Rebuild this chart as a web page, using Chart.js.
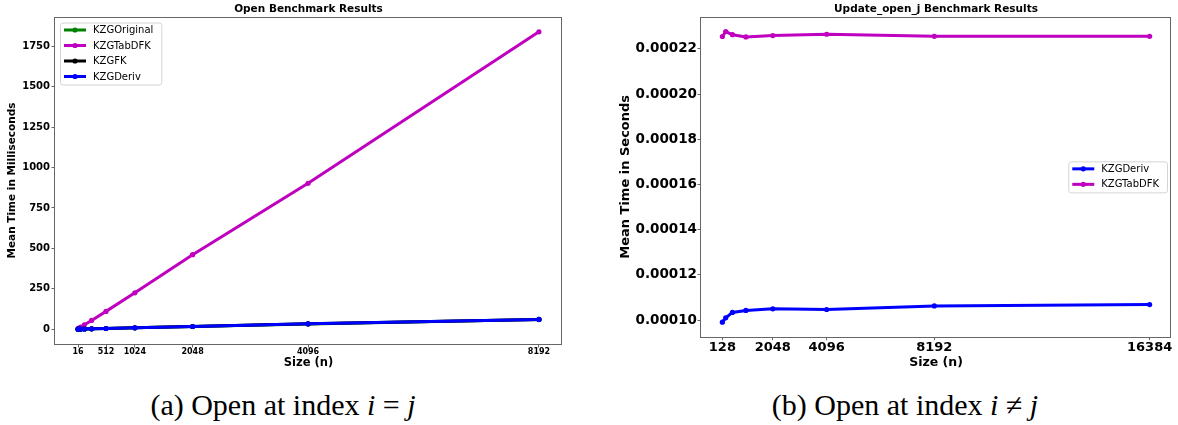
<!DOCTYPE html>
<html>
<head>
<meta charset="utf-8">
<title>Benchmark Results</title>
<script src="https://cdn.jsdelivr.net/npm/chart.js@4.4.1/dist/chart.umd.min.js"></script>
<style>
    body { margin: 0; background: #fff; width: 1178px; height: 425px; overflow: hidden; position: relative; }
    .box { position: absolute; top: 0; height: 372px; }
    .caption { position: absolute; top: 390px; width: 400px; text-align: center;
               font-family: "Liberation Serif", serif; font-size: 30px; line-height: 30px; color: #000; white-space: nowrap; }
</style>
</head>
<body>
<div class="box" style="left:0; width:590px;"><canvas id="openChart"></canvas></div>
<div class="box" style="left:590px; width:588px;"><canvas id="updateChart"></canvas></div>
<div class="caption" style="left:83px;">(a) Open at index <i>i</i> = <i>j</i></div>
<div class="caption" style="left:705px;">(b) Open at index <i>i</i> &ne; <i>j</i></div>

<script>
// values (left: milliseconds, right: seconds)
var openSizes = [16, 32, 64, 128, 256, 512, 1024, 2048, 4096, 8192];
var openOriginal = [0.1, 0.3, 0.5, 1, 2, 4, 8.2, 16.3, 32.5, 59.5];
var openTabDFK = [3, 7, 13, 27, 54, 110, 225, 461, 903, 1840];
var openFK = [0.1, 0.3, 0.5, 1, 2, 4, 8.3, 16.5, 33, 60];
var openDeriv = [0.1, 0.3, 0.5, 1, 2, 4, 8.3, 16.5, 33, 60];
var openXTicks = [16, 512, 1024, 2048, 4096, 8192];
var openYTicks = [0, 250, 500, 750, 1000, 1250, 1500, 1750];

var updateSizes = [128, 256, 512, 1024, 2048, 4096, 8192, 16384];
var updateDeriv = [0.0000991, 0.000101, 0.0001034, 0.0001043, 0.000105, 0.0001047, 0.0001063, 0.0001069];
var updateTabDFK = [0.0002255, 0.0002277, 0.0002263, 0.0002253, 0.0002259, 0.0002265, 0.0002256, 0.0002256];
var updateXTicks = [128, 2048, 4096, 8192, 16384];
var updateYTicks = [0.0001, 0.00012, 0.00014, 0.00016, 0.00018, 0.0002, 0.00022];

var openChart;
var updateChart;

Chart.defaults.font.family = 'DejaVu Sans';
Chart.defaults.color = '#000';

// matplotlib style 5% margin around the data
function padRange(lists) {
    var all = [].concat.apply([], lists);
    var lo = Math.min.apply(null, all);
    var hi = Math.max.apply(null, all);
    var m = (hi - lo) * 0.05;
    return {min: lo - m, max: hi + m};
}

function toPoints(xs, ys) {
    return xs.map(function (x, i) { return {x: x, y: ys[i]}; });
}

function series(label, xs, ys, color, order) {
    return {
        label: label,
        data: toPoints(xs, ys),
        borderColor: color,
        backgroundColor: color,
        borderWidth: 3,
        pointRadius: 2.6,
        pointBorderWidth: 0,
        pointBackgroundColor: color,
        tension: 0,
        order: order
    };
}

// frame around the plot + legend inside the plot area
var frameLegend = {
    id: 'frameLegend',
    afterDatasetsDraw: function (chart, args, opts) {
        var ctx = chart.ctx;
        var a = chart.chartArea;
        ctx.save();
        ctx.strokeStyle = '#666';
        ctx.lineWidth = 1;
        ctx.strokeRect(Math.round(a.left) - 0.5, Math.round(a.top) + 0.5,
            Math.round(a.right - a.left), Math.round(a.bottom - a.top));

        var items = opts.items.map(function (i) { return chart.data.datasets[i]; });
        ctx.font = '10px "DejaVu Sans"';
        var maxW = 0;
        items.forEach(function (d) { maxW = Math.max(maxW, ctx.measureText(d.label).width); });
        var w = maxW + 41;
        var rowH = 15.5;
        var h = 7.5 + (items.length - 1) * rowH + 8;
        var x, y;
        if (opts.place === 'centerRight') {
            x = a.right - 4 - w;
            y = (a.top + a.bottom) / 2 - h / 2;
        } else {
            x = a.left + 5;
            y = a.top + 5.5;
        }
        ctx.fillStyle = 'rgba(255,255,255,0.8)';
        ctx.strokeStyle = '#d4d4d4';
        ctx.beginPath();
        ctx.roundRect(x + 0.5, y + 0.5, w, h, 2.5);
        ctx.fill();
        ctx.stroke();

        items.forEach(function (d, k) {
            var cy = y + 7.5 + k * rowH;
            ctx.strokeStyle = d.borderColor;
            ctx.lineWidth = 3;
            ctx.beginPath();
            ctx.moveTo(x + 4, cy);
            ctx.lineTo(x + 26, cy);
            ctx.stroke();
            ctx.fillStyle = d.borderColor;
            ctx.beginPath();
            ctx.arc(x + 15, cy, 2.6, 0, Math.PI * 2);
            ctx.fill();
            ctx.fillStyle = '#000';
            ctx.textBaseline = 'middle';
            ctx.fillText(d.label, x + 33, cy + 0.5);
        });
        ctx.restore();
    }
};

function axis(range, ticks, fmt, fitSize, tickFont, title, titleFont, titlePad, tickPad, horizontal) {
    return {
        type: 'linear',
        min: range.min,
        max: range.max,
        afterBuildTicks: function (s) { s.ticks = ticks.map(function (v) { return {value: v}; }); },
        afterFit: function (s) { if (horizontal) { s.height = fitSize; } else { s.width = fitSize; } },
        grid: {drawOnChartArea: false, drawTicks: true, tickLength: 3.5, color: '#666'},
        border: {display: false},
        ticks: {font: {size: tickFont, weight: 'bold'}, padding: tickPad, autoSkip: false, maxRotation: 0,
                callback: fmt},
        title: {display: true, text: title, font: {size: titleFont, weight: 'bold'}, padding: titlePad}
    };
}

document.addEventListener('DOMContentLoaded', function () {
    var ctx = document.getElementById('openChart').getContext('2d');
    openChart = new Chart(ctx, {
        type: 'line',
        data: {
            datasets: [
                series('KZGOriginal', openSizes, openOriginal, '#008000', 4),
                series('KZGTabDFK', openSizes, openTabDFK, '#bf00bf', 3),
                series('KZGFK', openSizes, openFK, '#000000', 2),
                series('KZGDeriv', openSizes, openDeriv, '#0000ff', 1)
            ]
        },
        options: {
            responsive: true,
            maintainAspectRatio: false,
            animation: false,
            layout: {padding: {right: 28}},
            plugins: {
                legend: {display: false},
                tooltip: {enabled: false},
                title: {display: true, fullSize: false, text: 'Open Benchmark Results',
                        font: {size: 10.5, weight: 'bold'}, padding: {top: 2.7, bottom: 1.7}},
                frameLegend: {place: 'upperLeft', items: [0, 1, 2, 3]}
            },
            scales: {
                x: axis(padRange([openSizes]), openXTicks, function (v) { return String(v); },
                        28, 8, 'Size (n)', 11.5, 2, 0, true),
                y: axis(padRange([openTabDFK, openDeriv]), openYTicks, function (v) { return String(v); },
                        55, 10, 'Mean Time in Milliseconds', 10.5, 6, 1.5, false)
            }
        },
        plugins: [frameLegend]
    });

    var ctx2 = document.getElementById('updateChart').getContext('2d');
    updateChart = new Chart(ctx2, {
        type: 'line',
        data: {
            datasets: [
                series('KZGDeriv', updateSizes, updateDeriv, '#0000ff', 1),
                series('KZGTabDFK', updateSizes, updateTabDFK, '#bf00bf', 2)
            ]
        },
        options: {
            responsive: true,
            maintainAspectRatio: false,
            animation: false,
            layout: {padding: {right: 7}},
            plugins: {
                legend: {display: false},
                tooltip: {enabled: false},
                title: {display: true, fullSize: false, text: 'Update_open_j Benchmark Results',
                        font: {size: 10.5, weight: 'bold'}, padding: {top: 2.7, bottom: 1.7}},
                frameLegend: {place: 'centerRight', items: [0, 1]}
            },
            scales: {
                x: axis(padRange([updateSizes]), updateXTicks, function (v) { return String(v); },
                        35.3, 13, 'Size (n)', 12.5, 1.5, 0, true),
                y: axis(padRange([updateDeriv, updateTabDFK]), updateYTicks, function (v) { return v.toFixed(5); },
                        111, 13.5, 'Mean Time in Seconds', 13, 28, 0.5, false)
            }
        },
        plugins: [frameLegend]
    });
});
</script>
</body>
</html>
